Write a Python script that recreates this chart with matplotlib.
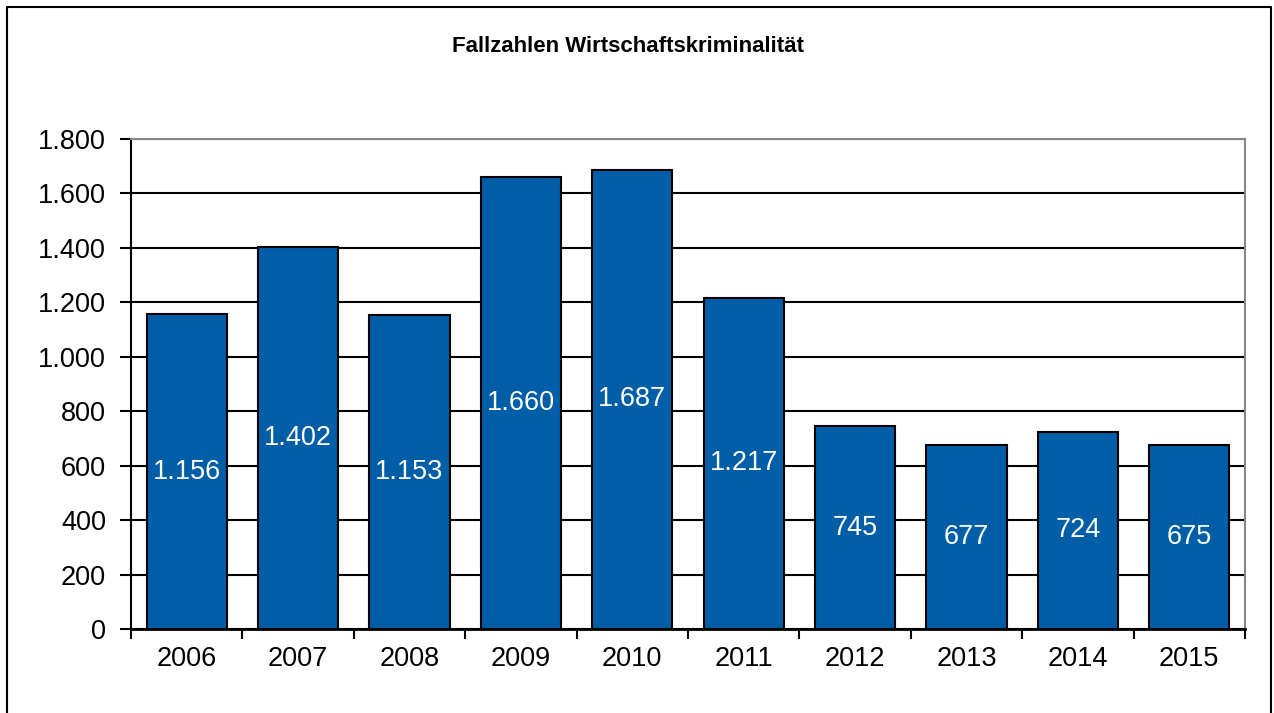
import matplotlib.pyplot as plt
import numpy as np
from matplotlib.lines import Line2D
from matplotlib.ticker import FixedLocator, NullFormatter, FuncFormatter

plt.rcParams['font.family'] = ['Liberation Sans', 'DejaVu Sans']

years = ['2006', '2007', '2008', '2009', '2010', '2011', '2012', '2013', '2014', '2015']
cases = [1156, 1402, 1153, 1660, 1687, 1217, 745, 677, 724, 675]
yticks = [0, 200, 400, 600, 800, 1000, 1200, 1400, 1600, 1800]

fig = plt.figure(figsize=(12.74, 7.13), dpi=100)
ax = fig.add_axes([131/1274, 84/713, 1114/1274, 490/713])

x = np.arange(len(years))
bars = ax.bar(x, cases, width=0.72, color='#005EA6', edgecolor='black', linewidth=1.5, zorder=3)

# labels in the middle of each bar
for xi, v in zip(x, cases):
    ax.text(xi, v / 2, f'{v:,}'.replace(',', '.'), ha='center', va='center',
            color='white', fontsize=19.5, zorder=4)

ax.set_xlim(-0.5, len(years) - 0.5)
ax.set_ylim(0, 1800)
ax.set_yticks(yticks)
ax.yaxis.set_major_formatter(FuncFormatter(lambda v, p: f'{int(v):,}'.replace(',', '.')))
ax.yaxis.grid(True, color='black', linewidth=1.5)
ax.set_axisbelow(True)

# ticks between categories, labels in the middle
ax.xaxis.set_major_locator(FixedLocator(np.arange(-0.5, len(years), 1.0)))
ax.xaxis.set_major_formatter(NullFormatter())
ax.xaxis.set_minor_locator(FixedLocator(x))
ax.set_xticklabels(years, minor=True)
ax.tick_params(axis='x', which='major', direction='out', length=7, width=1.5, color='black')
ax.tick_params(axis='x', which='minor', length=0, labelsize=19.5, pad=12)
ax.tick_params(axis='y', direction='out', length=8, width=1.5, labelsize=19.5, pad=10)

ax.spines['left'].set_linewidth(1.5)
ax.spines['bottom'].set_linewidth(2)
ax.spines['top'].set_color('#888888')
ax.spines['right'].set_color('#888888')
ax.spines['top'].set_linewidth(1.5)
ax.spines['right'].set_linewidth(1.5)

fig.text(628/1274, 1 - 47/713, 'Fallzahlen Wirtschaftskriminalität', ha='center', va='center',
         fontsize=16, fontweight='bold')

# outer chart frame
fx0, fx1, fy1 = 7/1274, 1271/1274, 1 - 7/713
fig.add_artist(Line2D([fx0, fx0, fx1, fx1], [0, fy1, fy1, 0], color='black', linewidth=1.5))

fig.savefig('out.png', dpi=100)
